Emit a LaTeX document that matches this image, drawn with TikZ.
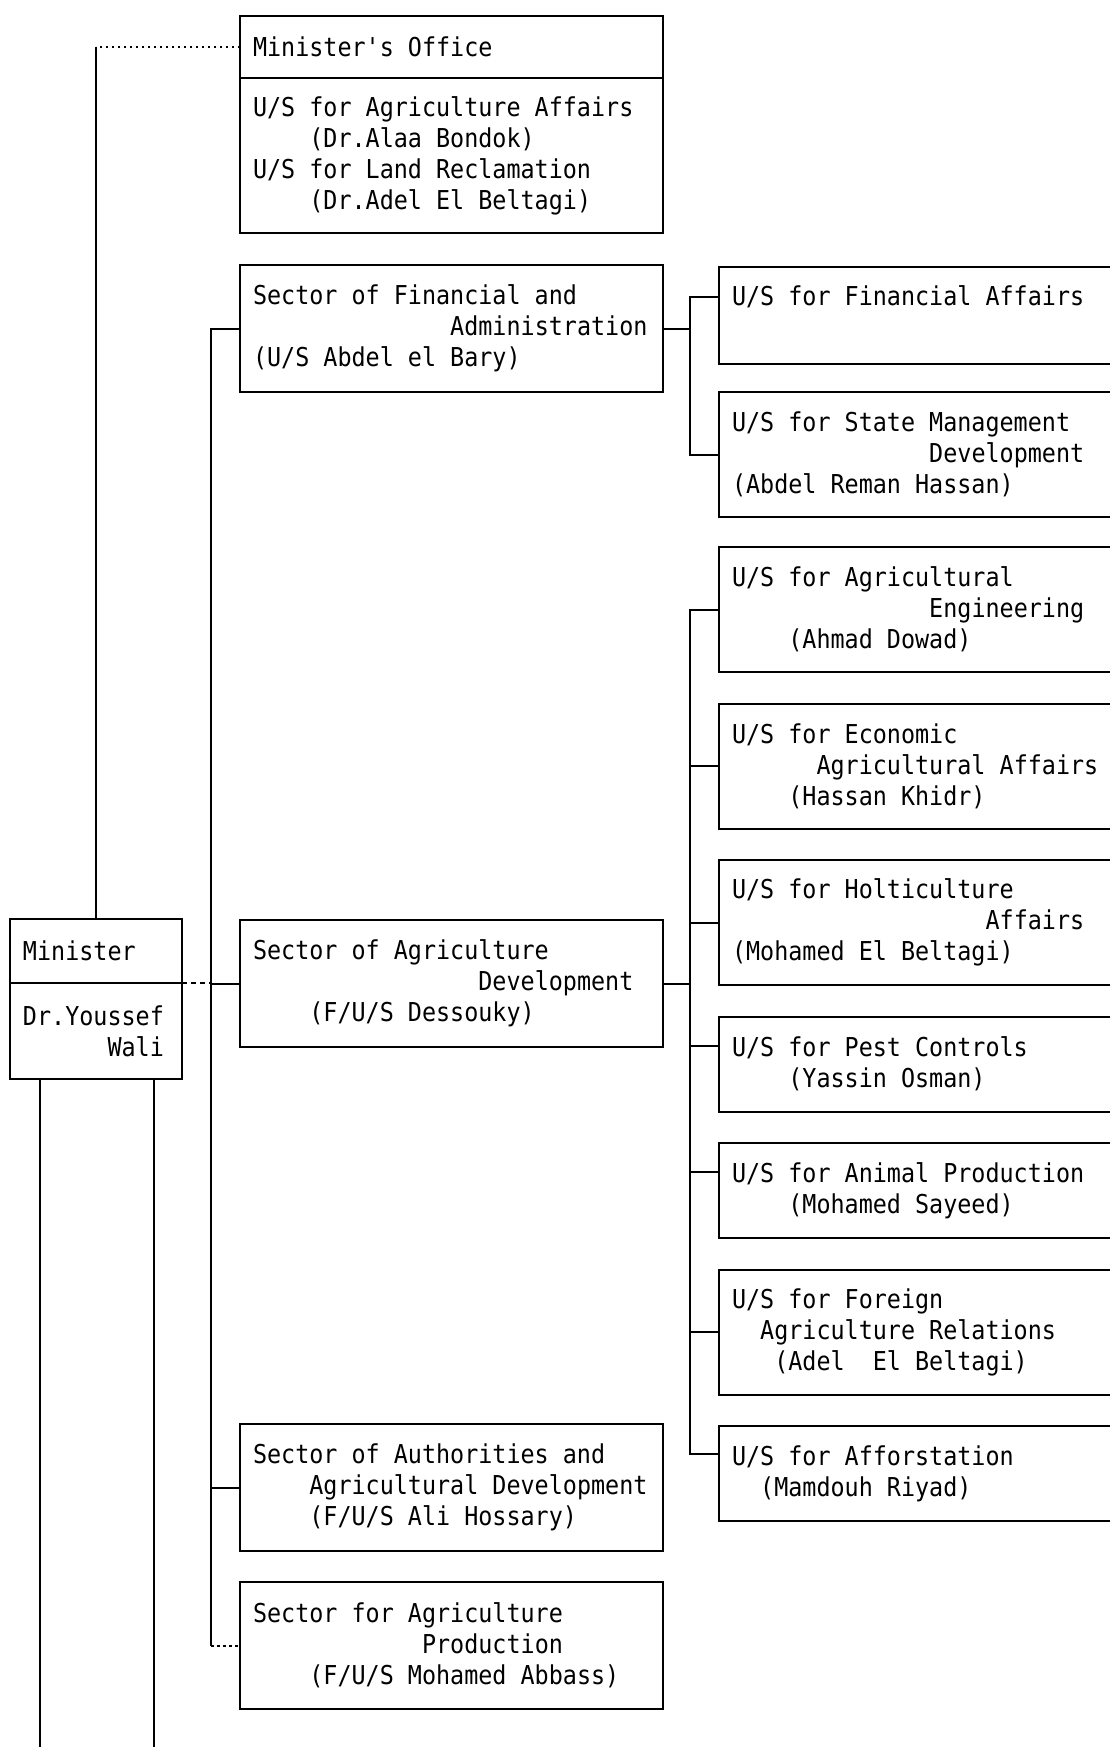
\documentclass[tikz,border=0pt]{standalone}
\usepackage{fontspec}
\usetikzlibrary{positioning,calc}

\newfontfamily\chartfont[FakeStretch=0.9]{DejaVu Sans Mono}
% one character cell, used for indents and word spaces
\newcommand\cell{\fontcharwd\font`0}
\newcommand\pad[1]{\hspace*{#1\cell}}
\newcommand\chartsize{\chartfont\fontsize{26pt}{31pt}\selectfont\spaceskip=\cell\relax}

\tikzset{
  unit/.style={draw, line width=2pt, outer sep=0pt, anchor=north west,
    inner xsep=13pt, inner ysep=0pt, align=flush left, font=\chartsize},
  sector/.style={unit, text width=397pt, minimum height=127pt},
  usbox/.style={unit, text width=394pt, minimum height=125pt},
  usshort/.style={usbox, minimum height=95pt},
  link/.style={line width=2pt},
}

\begin{document}
\begin{tikzpicture}[x=1pt, y=-1pt, node distance=31.5pt]
\useasboundingbox (0,0) rectangle (1109,1747);

% minister and his office
\node[unit, text width=146pt, minimum height=64pt] (minister) at (10,919) {Minister};
\node[unit, text width=146pt, minimum height=96pt, below=0pt of minister] (wali)
  {Dr.Youssef\\\pad{6}Wali};
\node[unit, text width=397pt, minimum height=62pt] (office) at (240,16) {Minister's Office};
\node[unit, text width=397pt, minimum height=155pt, below=0pt of office] (officebody)
  {U/S for Agriculture Affairs\\\pad{4}(Dr.Alaa Bondok)\\
   U/S for Land Reclamation\\\pad{4}(Dr.Adel El Beltagi)};

% sectors
\node[sector] (finsec) at (240,265)
  {Sector of Financial and\\\pad{14}Administration\\(U/S Abdel el Bary)};
\node[sector] (agdev) at (240,920)
  {Sector of Agriculture\\\pad{16}Development\\\pad{4}(F/U/S Dessouky)};
\node[sector] (authsec) at (240,1424)
  {Sector of Authorities and\\\pad{4}Agricultural Development\\\pad{4}(F/U/S Ali Hossary)};
\node[sector] (prodsec) at (240,1582)
  {Sector for Agriculture\\\pad{12}Production\\\pad{4}(F/U/S Mohamed Abbass)};

% under secretaries
\node[usshort, minimum height=97pt] (finaff) at (719,267)
  {U/S for Financial Affairs\\\strut};
\node[usbox, below=28pt of finaff] (state)
  {U/S for State Management\\\pad{14}Development\\(Abdel Reman Hassan)};
\node[usbox] (ageng) at (719,547)
  {U/S for Agricultural\\\pad{14}Engineering\\\pad{4}(Ahmad Dowad)};
\node[usbox, below=of ageng] (econ)
  {U/S for Economic\\\pad{6}Agricultural Affairs\\\pad{4}(Hassan Khidr)};
\node[usbox, below=of econ] (holt)
  {U/S for Holticulture\\\pad{18}Affairs\\(Mohamed El Beltagi)};
\node[usshort, below=of holt] (pest)
  {U/S for Pest Controls\\\pad{4}(Yassin Osman)};
\node[usshort, below=of pest] (animal)
  {U/S for Animal Production\\\pad{4}(Mohamed Sayeed)};
\node[usbox, below=of animal] (foreign)
  {U/S for Foreign\\\pad{2}Agriculture Relations\\\pad{3}(Adel\pad{2}El Beltagi)};
\node[usshort, below=of foreign] (affor)
  {U/S for Afforstation\\\pad{2}(Mamdouh Riyad)};

\coordinate (spine) at (211,0);
\coordinate (fork) at (690,0);
\coordinate (footl) at (40,1747);
\coordinate (footr) at (154,1747);
\coordinate (finaff-in) at ($(finaff.north west)!.31!(finaff.south west)$);
\coordinate (pest-in) at ($(pest.north west)!.31!(pest.south west)$);
\coordinate (animal-in) at ($(animal.north west)!.31!(animal.south west)$);
\coordinate (affor-in) at ($(affor.north west)!.29!(affor.south west)$);

% office link
\draw[link, dash pattern=on 2pt off 4pt] (office.west) -- (office.west -| minister.north);
\draw[link] (office.west -| minister.north) -- (minister.north);

% minister to the sectors
\draw[link, dash pattern=on 5pt off 4pt] (minister.south east) -- (minister.south east -| spine);
\draw[link] (finsec.west) -- (finsec.west -| spine) -- (prodsec.west -| spine);
\draw[link] (agdev.west -| spine) -- (agdev.west);
\draw[link] (authsec.west -| spine) -- (authsec.west);
\draw[link, dash pattern=on 3pt off 3pt] (prodsec.west -| spine) -- (prodsec.west);
\draw[link] (wali.south -| footl) -- (footl);
\draw[link] (wali.south -| footr) -- (footr);

% financial branch
\draw[link] (finsec.east) -- (finsec.east -| fork);
\draw[link] (finaff-in) -- (finaff-in -| fork) -- (state.west -| fork) -- (state.west);

% agriculture development branch
\draw[link] (agdev.east) -- (agdev.east -| fork);
\draw[link] (ageng.west) -- (ageng.west -| fork) -- (affor-in -| fork) -- (affor-in);
\foreach \n in {econ.west, holt.west, pest-in, animal-in, foreign.west}
  \draw[link] (\n -| fork) -- (\n);

\end{tikzpicture}
\end{document}
